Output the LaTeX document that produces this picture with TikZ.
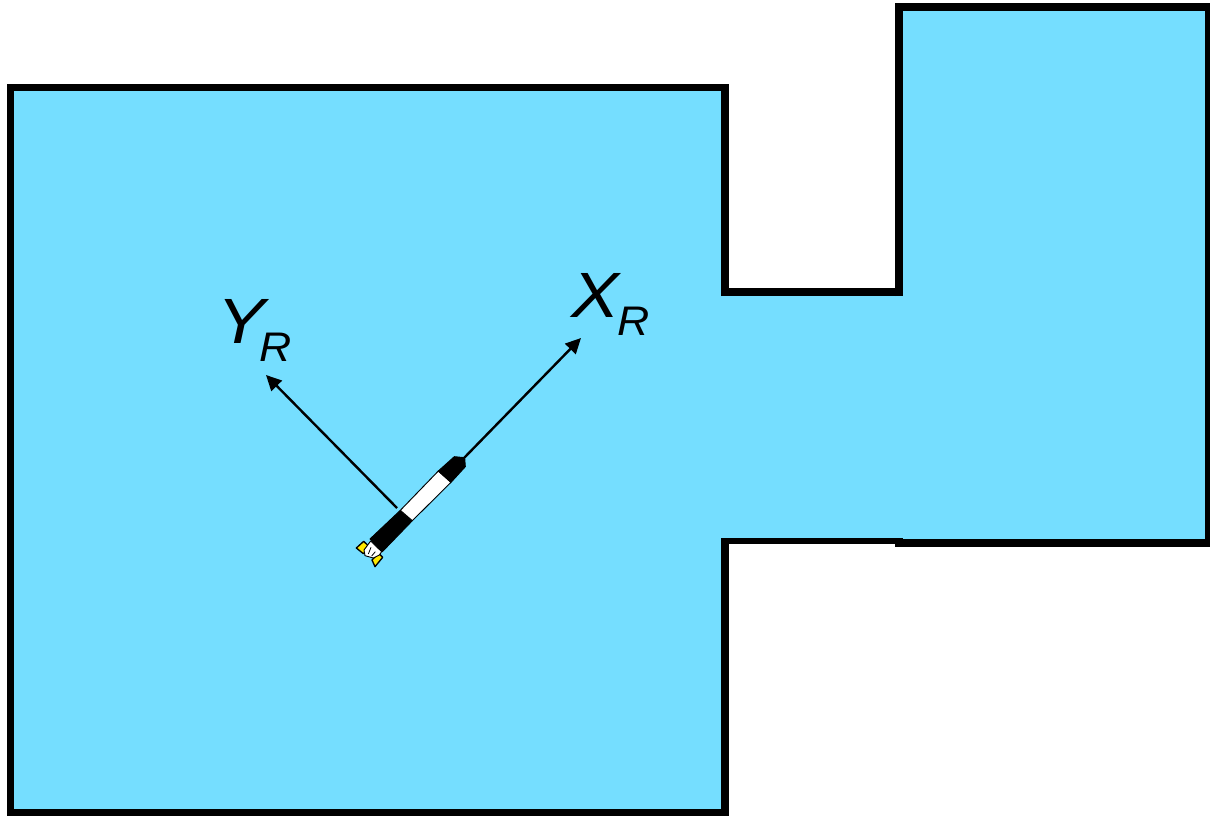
\documentclass[tikz,border=0pt]{standalone}
\usepackage{fontspec}
\setmainfont{Liberation Sans}
\usetikzlibrary{arrows.meta}
\definecolor{roomblue}{RGB}{117,222,255}
\definecolor{finyellow}{RGB}{255,232,0}
\newcommand{\axislabel}[2]{\scalebox{1.12}[1]{\fontsize{48}{48}\selectfont\itshape #1}\kern #2\raisebox{-13.5pt}{\scalebox{1.08}[1]{\fontsize{31}{31}\selectfont\itshape R}}}
\tikzset{
  wall/.style={line width=5.6pt,line cap=butt,line join=miter},
  thinwall/.style={line width=4.6pt,line cap=butt},
  axisline/.style={line width=1.8pt,-{Triangle[length=11.5pt,width=11pt]}},
  axistext/.style={anchor=base west,inner sep=0pt,outer sep=0pt},
  rocketpart/.style={draw=black,line width=0.7pt,line join=round}
}
\begin{document}
\begin{tikzpicture}[x=0.75pt,y=-0.75pt]
\useasboundingbox (0,0) rectangle (1210,815);
% water
\fill[roomblue] (10.5,87.5) -- (725,87.5) -- (725,292) -- (899,292) -- (899,7) -- (1209,7) -- (1209,543) -- (899,543) -- (899,541) -- (725,541) -- (725,812.5) -- (10.5,812.5) -- cycle;
% walls
\draw[wall] (725,296) -- (725,87.5) -- (10.5,87.5) -- (10.5,812.5) -- (725,812.5) -- (725,538);
\draw[wall] (725,292) -- (899,292);
\draw[wall] (899,296) -- (899,7) -- (1209,7) -- (1209,543) -- (895,543);
\draw[thinwall] (721.5,541) -- (903,541);
% coordinates
\coordinate (yfoot) at (397,508);
\coordinate (yhead) at (266,375);
\coordinate (xfoot) at (464,458);
\coordinate (xhead) at (581,338);
% axes
\draw[axisline] (yfoot) -- (yhead);
\draw[axisline] (xfoot) -- (xhead);
% rocket
\begin{scope}[shift={(340,440)},scale=1/3]
  \filldraw[rocketpart,fill=finyellow,line width=1pt] (49,324) -- (71,304) -- (90,322) -- (70,341) -- cycle;
  \filldraw[rocketpart,fill=finyellow,line width=1pt] (96,360) -- (116,340) -- (128,352) -- (105,380) -- cycle;
  \filldraw[rocketpart,fill=white] (92,303) -- (125,335) -- (118,345) -- (100,354) -- (75,347) -- (72,330) -- cycle;
  \draw[line width=0.6pt] (93,322) -- (85,342) (106,335) -- (95,348);
  \filldraw[rocketpart,fill=black] (181,211) -- (217,242) -- (127,335) -- (90,297) -- cycle;
  \filldraw[rocketpart,fill=white] (295,93) -- (333,127) -- (217,242) -- (181,211) -- cycle;
  \filldraw[rocketpart,fill=black] (295,93) -- (343,50) -- (374,53) -- (376,80) -- (333,127) -- cycle;
\end{scope}
% labels
\node[axistext] (ylabel) at (217,343) {\axislabel{Y}{-4pt}};
\node[axistext] (xlabel) at (571,317) {\axislabel{X}{-1pt}};
\end{tikzpicture}
\end{document}
